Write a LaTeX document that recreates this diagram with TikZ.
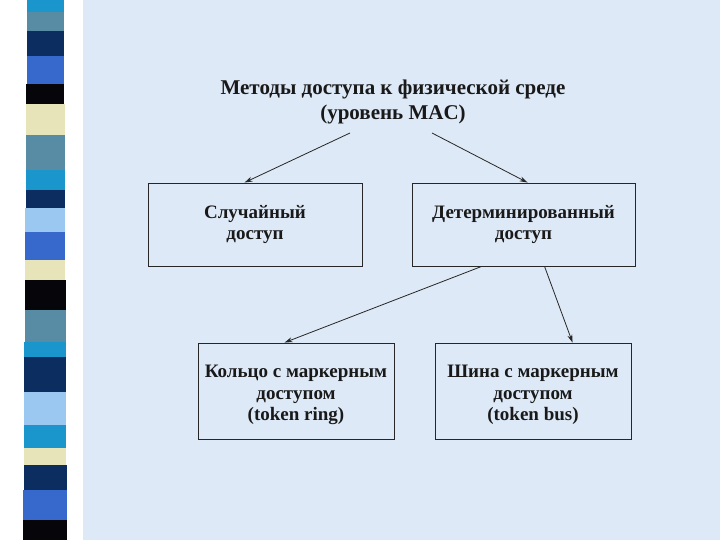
\documentclass[tikz,border=0pt]{standalone}
\usepackage{fontspec}
\setmainfont{Liberation Serif}
\usetikzlibrary{arrows.meta,calc}
\definecolor{bgblue}{RGB}{221,233,247}
\definecolor{sCyan}{RGB}{26,150,205}
\definecolor{sGray}{RGB}{88,140,165}
\definecolor{sNavy}{RGB}{12,45,95}
\definecolor{sRoyal}{RGB}{55,105,205}
\definecolor{sCream}{RGB}{232,228,185}
\definecolor{sLight}{RGB}{155,200,240}
\definecolor{sBlack}{RGB}{5,5,10}
\tikzset{
  box/.style={draw=black!85, line width=0.9pt, fill=none, inner sep=0pt},
  lbl/.style={font=\bfseries\fontsize{19}{21.5}\selectfont, align=center, text=black!90},
  ttl/.style={font=\bfseries\fontsize{21}{25}\selectfont, align=center, text=black!90},
  arr/.style={draw=black!85, line width=0.8pt, -{Stealth[length=8pt,width=5pt]}},
}
\begin{document}
\begin{tikzpicture}[x=1pt,y=-1pt]
\useasboundingbox (0,0) rectangle (720,540);
\fill[white] (0,0) rectangle (720,540);
\fill[bgblue] (83,0) rectangle (720,540);
% stripes
\foreach \ya/\yb/\c in {0/12/sCyan,12/31/sGray,31/56/sNavy,56/84/sRoyal,84/104/sBlack,104/135/sCream,135/170/sGray,170/190/sCyan,190/208/sNavy,208/232/sLight,232/260/sRoyal,260/280/sCream,280/310/sBlack,310/342/sGray,342/357/sCyan,357/392/sNavy,392/425/sLight,425/448/sCyan,448/465/sCream,465/490/sNavy,490/520/sRoyal,520/540/sBlack}{
  \fill[\c] ({27-2*\ya/270},\ya) rectangle ({64+3*\ya/540},\yb);
}
% title
\node[ttl] (title) at (393,102) {Методы доступа к физической среде\\(уровень MAC)};
\coordinate (t1) at (350,133);
\coordinate (t2) at (432,133);
% boxes
\node[box, minimum width=214pt, minimum height=83pt] (b1) at (255,224.5) {};
\node[lbl] at (b1.center) {Случайный\\доступ};
\node[box, minimum width=223pt, minimum height=83pt] (b2) at (523.5,224.5) {};
\node[lbl] at (b2.center) {Детерминированный\\доступ};
\node[box, minimum width=196pt, minimum height=96pt] (b3) at (296,391) {};
\node[lbl] at ($(b3.center)+(0,4)$) {Кольцо с маркерным\\доступом\\(token ring)};
\node[box, minimum width=196pt, minimum height=96pt] (b4) at (533,391) {};
\node[lbl] at ($(b4.center)+(0,4)$) {Шина с маркерным\\доступом\\(token bus)};
% arrows
\draw[arr] (t1) -- ($(b1.north west)+(97,0)$);
\draw[arr] (t2) -- ($(b2.north west)+(116,0)$);
\draw[arr] ($(b2.south west)+(70,0)$) -- ($(b3.north west)+(87,0)$);
\draw[arr] ($(b2.south west)+(133,0)$) -- ($(b4.north west)+(138,0)$);
\end{tikzpicture}
\end{document}
